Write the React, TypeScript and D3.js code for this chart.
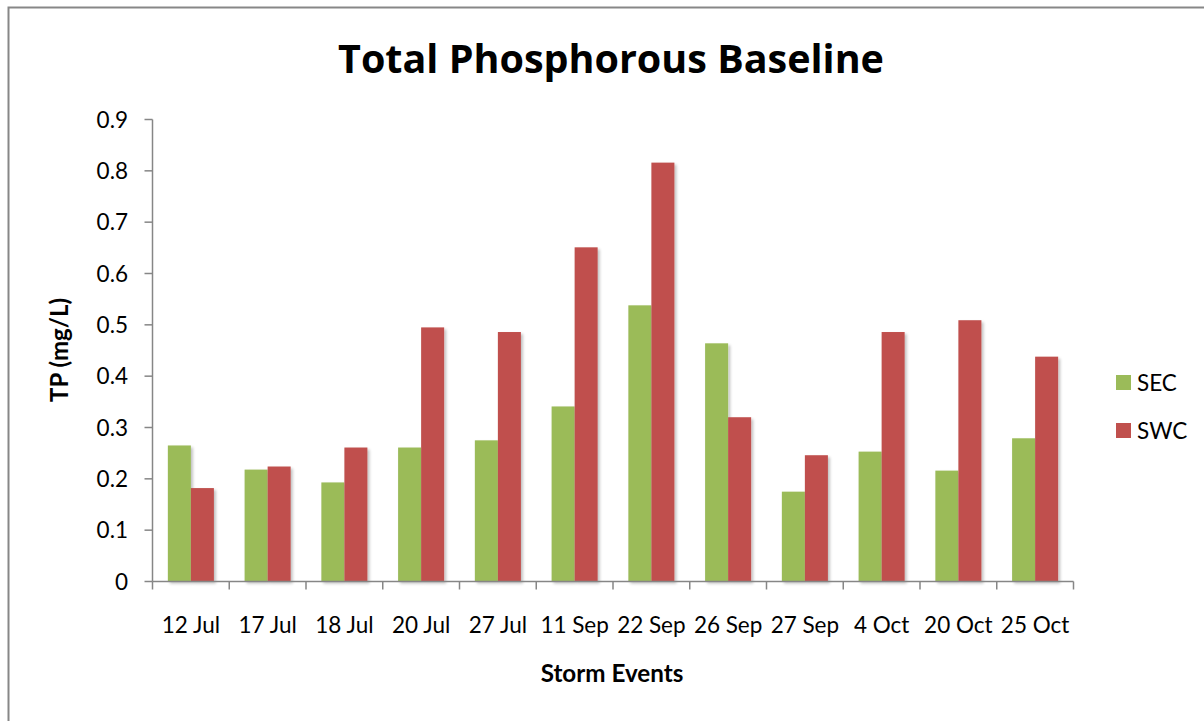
import React from "react";
import * as d3 from "d3";

const categories = ["12 Jul", "17 Jul", "18 Jul", "20 Jul", "27 Jul", "11 Sep", "22 Sep", "26 Sep", "27 Sep", "4 Oct", "20 Oct", "25 Oct"];
const secValues = [0.265, 0.218, 0.193, 0.261, 0.275, 0.341, 0.538, 0.464, 0.175, 0.253, 0.216, 0.279];
const swcValues = [0.182, 0.224, 0.261, 0.495, 0.486, 0.651, 0.816, 0.320, 0.246, 0.486, 0.509, 0.438];
const yTicks = [0, 0.1, 0.2, 0.3, 0.4, 0.5, 0.6, 0.7, 0.8, 0.9];
const seriesNames = ["SEC", "SWC"];
const seriesColors = ["#9BBB59", "#C0504D"];

const W = 1204;
const H = 721;
const left = 152.5;
const right = 1073.5;
const top = 119.5;
const bottom = 581.5;
const font = "Lato, 'Open Sans', sans-serif";
const titleFont = "'Open Sans', Lato, sans-serif";

export default function App() {
  const x = d3.scaleBand<string>().domain(categories).range([left, right]).paddingInner(0).paddingOuter(0);
  const y = d3.scaleLinear().domain([0, 0.9]).range([bottom, top]);
  const bw = x.bandwidth();
  const barW = bw * 0.3;
  const series = [secValues, swcValues];

  return (
    <svg width={W} height={H} style={{ position: "absolute", left: 0, top: 0, background: "#fff" }}>
      <defs>
        <filter id="sh" x="-20%" y="-5%" width="150%" height="115%">
          <feGaussianBlur in="SourceAlpha" stdDeviation="1.5" />
          <feOffset dx="1.5" dy="1.5" />
          <feComponentTransfer><feFuncA type="linear" slope="0.25" /></feComponentTransfer>
          <feMerge><feMergeNode /><feMergeNode in="SourceGraphic" /></feMerge>
        </filter>
      </defs>
      <rect x={8.5} y={7.5} width={W + 20} height={H + 20} fill="#fff" stroke="#878787" strokeWidth={2} />
      <text x={611} y={73} textAnchor="middle" fontFamily={titleFont} fontWeight="bold" fontSize={39.5} fill="#000">
        Total Phosphorous Baseline
      </text>
      {/* bars */}
      {categories.map((c, i) => {
        const cx = (x(c) as number) + bw / 2;
        return series.map((vals, s) => (
          <rect
            key={c + s}
            x={cx - barW + s * barW}
            y={y(vals[i])}
            width={barW}
            height={y(0) - y(vals[i])}
            fill={seriesColors[s]}
            filter="url(#sh)"
          />
        ));
      })}
      {/* y axis */}
      <line x1={left} x2={left} y1={top} y2={bottom} stroke="#868686" strokeWidth={1.5} />
      {yTicks.map((t) => (
        <g key={t}>
          <line x1={left - 8} x2={left} y1={y(t)} y2={y(t)} stroke="#868686" strokeWidth={1.5} />
          <text x={128} y={y(t) + 8} textAnchor="end" fontFamily={font} fontSize={22.5} fill="#000">
            {t === 0 ? "0" : d3.format(".1f")(t)}
          </text>
        </g>
      ))}
      {/* x axis */}
      <line x1={left} x2={right} y1={bottom} y2={bottom} stroke="#868686" strokeWidth={1.5} />
      {[...categories.map((c) => x(c) as number), right].map((px, i) => (
        <line key={i} x1={px} x2={px} y1={bottom} y2={bottom + 8} stroke="#868686" strokeWidth={1.5} />
      ))}
      {categories.map((c) => (
        <text key={c} x={(x(c) as number) + bw / 2} y={633} textAnchor="middle" fontFamily={font} fontSize={22.5} fill="#000">
          {c}
        </text>
      ))}
      <text x={612} y={682} textAnchor="middle" fontFamily={font} fontWeight="bold" fontSize={24.2} fill="#000">
        Storm Events
      </text>
      <text transform={`translate(68,350) rotate(-90)`} textAnchor="middle" fontFamily={font} fontWeight="bold" fontSize={24} fill="#000">
        TP (mg/L)
      </text>
      {/* legend */}
      {seriesNames.map((n, i) => (
        <g key={n}>
          <rect x={1116} y={375 + i * 48} width={15} height={15} fill={seriesColors[i]} />
          <text x={1137} y={391 + i * 48} fontFamily={font} fontSize={22.5} fill="#000">
            {n}
          </text>
        </g>
      ))}
    </svg>
  );
}
